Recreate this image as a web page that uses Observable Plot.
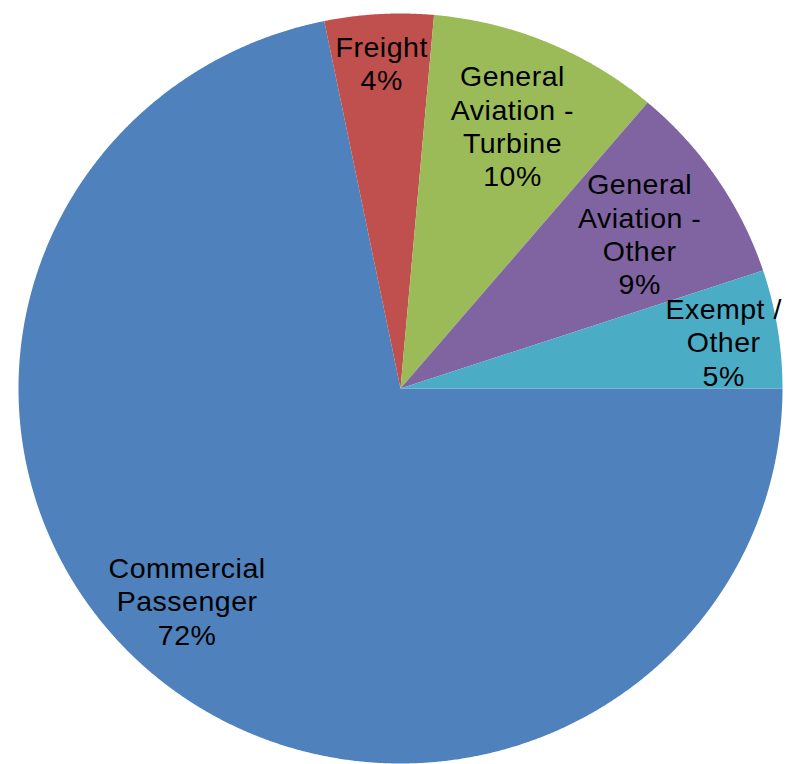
<!DOCTYPE html>
<html>
<head>
<meta charset="utf-8">
<script src="https://cdn.jsdelivr.net/npm/d3@7"></script>
<script src="https://cdn.jsdelivr.net/npm/@observablehq/plot@0.6"></script>
<style>
  html, body { margin: 0; padding: 0; background: #fff; }
  #chart { width: 794px; height: 764px; }
  #chart svg text { letter-spacing: 0.5px; }
</style>
</head>
<body>
<div id="chart"></div>
<script>
// ---- data ----
const categories = ["Commercial Passenger", "Freight", "General Aviation - Turbine", "General Aviation - Other", "Exempt / Other"];
const labelText = ["Commercial\nPassenger", "Freight", "General\nAviation -\nTurbine", "General\nAviation -\nOther", "Exempt /\nOther"];
const values = [71.8, 4.6, 9.8, 8.7, 5.1];
const pctLabels = ["72%", "4%", "10%", "9%", "5%"];
const colors = ["#4F81BD", "#C0504D", "#9BBB59", "#8064A2", "#4BACC6"];

// ---- layout (label placement along each slice's mid-angle) ----
const labelRadius = [0.795, 0.87, 0.76, 0.75, 0.855];
const labelAngleShift = [5.4, 0, 0, 0.6, 0.8]; // degrees

const arcs = d3.pie().sort(null).value(d => d)
  .startAngle(Math.PI / 2).endAngle(Math.PI / 2 + 2 * Math.PI)(values);

// polygon vertices for each slice, computed from pie angles
const pts = [];
arcs.forEach((a, i) => {
  const name = categories[i];
  pts.push({name, x: 0, y: 0});
  const n = Math.max(4, Math.ceil((a.endAngle - a.startAngle) / (Math.PI / 720)));
  for (let k = 0; k <= n; k++) {
    const t = a.startAngle + (a.endAngle - a.startAngle) * k / n;
    pts.push({name, x: Math.sin(t), y: Math.cos(t)});
  }
});

const labels = arcs.map((a, i) => {
  const m = (a.startAngle + a.endAngle) / 2 + labelAngleShift[i] * Math.PI / 180;
  const r = labelRadius[i];
  return {x: r * Math.sin(m), y: r * Math.cos(m), text: labelText[i] + "\n" + pctLabels[i]};
});

const chart = Plot.plot({
  width: 794,
  height: 764,
  margin: 0,
  x: {domain: [-1, 1], range: [18, 782], axis: null},
  y: {domain: [-1, 1], range: [763, 13], axis: null},
  color: {domain: categories, range: colors},
  style: {background: "#fff"},
  marks: [
    Plot.line(pts, {x: "x", y: "y", z: "name", fill: "name", stroke: "none", curve: "linear-closed"}),
    Plot.text(labels, {
      x: "x", y: "y", text: "text",
      fill: "#000",
      fontSize: 28.5,
      fontFamily: "'Liberation Sans', Arial, sans-serif",
      lineHeight: 1.17,
      textAnchor: "middle"
    })
  ]
});
document.getElementById("chart").appendChild(chart);
</script>
</body>
</html>
